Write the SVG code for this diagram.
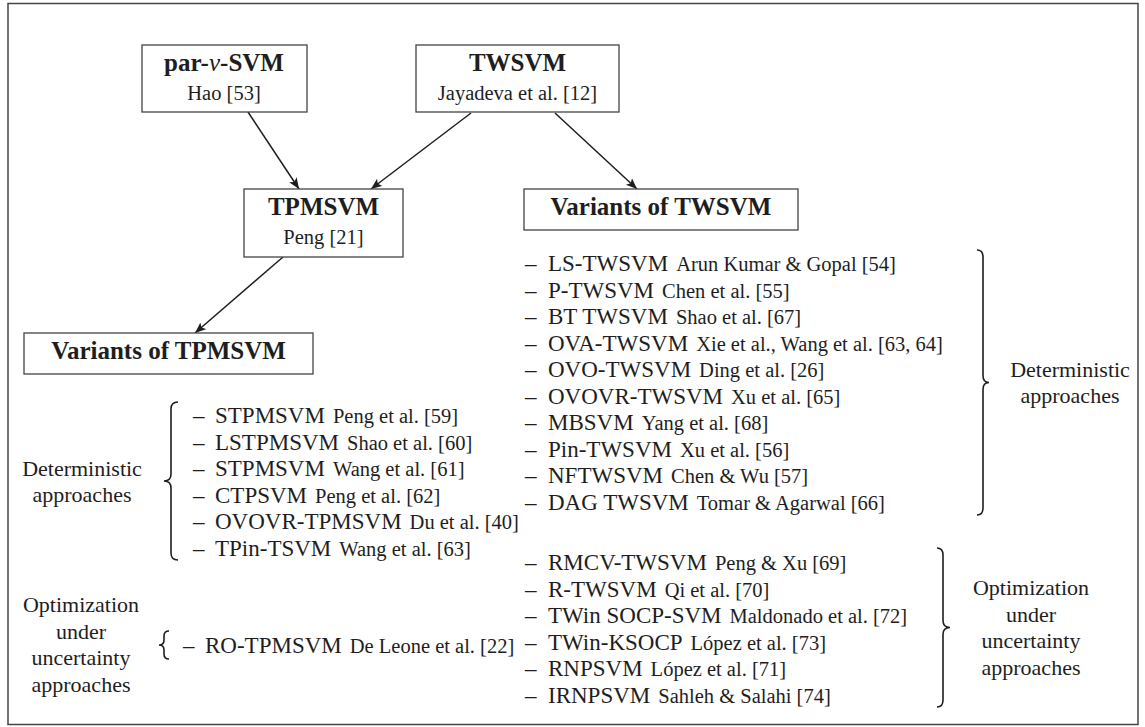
<svg xmlns="http://www.w3.org/2000/svg" width="1145" height="727" viewBox="0 0 1145 727" font-family="'Liberation Serif', 'DejaVu Serif', serif">
<style>
text{font-family:'Liberation Serif', 'DejaVu Serif', serif;fill:#1e1e1e}
.t{font-size:25px;font-weight:bold;text-anchor:middle}
.sub{font-size:20.5px;text-anchor:middle}
.li{font-size:23px}
.s{font-size:20.5px}
.lab{font-size:22px;text-anchor:middle}
.box{fill:#fff;stroke:#444;stroke-width:1.3}
.br{fill:none;stroke:#1e1e1e;stroke-width:1.6}
.cn{stroke:#1e1e1e;stroke-width:1.5;fill:none;marker-end:url(#ah)}
</style>
<defs>
<marker id="ah" markerUnits="userSpaceOnUse" markerWidth="12" markerHeight="10" refX="11" refY="4.5" orient="auto">
<path d="M0,0 L11,4.5 L0,9 L2.5,4.5 z" fill="#1e1e1e"/>
</marker>
</defs>
<rect x="8" y="3.5" width="1130" height="721" fill="#fff" stroke="#444" stroke-width="1.5"/>

<g id="connectors">
<line class="cn" x1="248" y1="112" x2="299" y2="189"/>
<line class="cn" x1="471" y1="113" x2="371" y2="189"/>
<line class="cn" x1="555" y1="113" x2="637" y2="189"/>
<line class="cn" x1="283" y1="257" x2="195" y2="333"/>
</g>

<g id="par-nu-svm">
<rect class="box" x="142" y="45" width="165" height="67"/>
<text class="t" x="224" y="71">par-<tspan font-style="italic" font-weight="normal">ν</tspan>-SVM</text>
<text class="sub" x="224" y="99.5">Hao [53]</text>
</g>

<g id="twsvm">
<rect class="box" x="416" y="45" width="203" height="67"/>
<text class="t" x="517.5" y="71">TWSVM</text>
<text class="sub" x="517.5" y="99.5">Jayadeva et al. [12]</text>
</g>

<g id="tpmsvm">
<rect class="box" x="244" y="189" width="159" height="68"/>
<text class="t" x="323.5" y="215">TPMSVM</text>
<text class="sub" x="323.5" y="243.5">Peng [21]</text>
</g>

<g id="variants-twsvm">
<rect class="box" x="524" y="189" width="274" height="41"/>
<text class="t" x="661" y="215">Variants of TWSVM</text>
</g>

<g id="variants-tpmsvm">
<rect class="box" x="24" y="333" width="289" height="41"/>
<text class="t" x="168.5" y="359">Variants of TPMSVM</text>
</g>

<g id="twsvm-deterministic-list">
<text class="li" y="271"><tspan x="525">–</tspan><tspan x="548">LS-TWSVM</tspan><tspan class="s" dx="8">Arun Kumar &amp; Gopal [54]</tspan></text>
<text class="li" y="297.5"><tspan x="525">–</tspan><tspan x="548">P-TWSVM</tspan><tspan class="s" dx="8">Chen et al. [55]</tspan></text>
<text class="li" y="324"><tspan x="525">–</tspan><tspan x="548">BT TWSVM</tspan><tspan class="s" dx="8">Shao et al. [67]</tspan></text>
<text class="li" y="350.5"><tspan x="525">–</tspan><tspan x="548">OVA-TWSVM</tspan><tspan class="s" dx="8">Xie et al., Wang et al. [63, 64]</tspan></text>
<text class="li" y="377"><tspan x="525">–</tspan><tspan x="548">OVO-TWSVM</tspan><tspan class="s" dx="8">Ding et al. [26]</tspan></text>
<text class="li" y="403.5"><tspan x="525">–</tspan><tspan x="548">OVOVR-TWSVM</tspan><tspan class="s" dx="8">Xu et al. [65]</tspan></text>
<text class="li" y="430"><tspan x="525">–</tspan><tspan x="548">MBSVM</tspan><tspan class="s" dx="8">Yang et al. [68]</tspan></text>
<text class="li" y="456.5"><tspan x="525">–</tspan><tspan x="548">Pin-TWSVM</tspan><tspan class="s" dx="8">Xu et al. [56]</tspan></text>
<text class="li" y="483"><tspan x="525">–</tspan><tspan x="548">NFTWSVM</tspan><tspan class="s" dx="8">Chen &amp; Wu [57]</tspan></text>
<text class="li" y="509.5"><tspan x="525">–</tspan><tspan x="548">DAG TWSVM</tspan><tspan class="s" dx="8">Tomar &amp; Agarwal [66]</tspan></text>
</g>

<g id="twsvm-deterministic-brace">
<path class="br" d="M977,250 Q983,250 983,257 L983,375.5 Q983,382.5 989,382.5 Q983,382.5 983,389.5 L983,508 Q983,515 977,515"/>
<text class="lab" x="1070" y="377">Deterministic</text>
<text class="lab" x="1070" y="403">approaches</text>
</g>

<g id="twsvm-uncertainty-list">
<text class="li" y="570"><tspan x="525">–</tspan><tspan x="548">RMCV-TWSVM</tspan><tspan class="s" dx="8">Peng &amp; Xu [69]</tspan></text>
<text class="li" y="596.5"><tspan x="525">–</tspan><tspan x="548">R-TWSVM</tspan><tspan class="s" dx="8">Qi et al. [70]</tspan></text>
<text class="li" y="623"><tspan x="525">–</tspan><tspan x="548">TWin SOCP-SVM</tspan><tspan class="s" dx="8">Maldonado et al. [72]</tspan></text>
<text class="li" y="649.5"><tspan x="525">–</tspan><tspan x="548">TWin-KSOCP</tspan><tspan class="s" dx="8">López et al. [73]</tspan></text>
<text class="li" y="676"><tspan x="525">–</tspan><tspan x="548">RNPSVM</tspan><tspan class="s" dx="8">López et al. [71]</tspan></text>
<text class="li" y="702.5"><tspan x="525">–</tspan><tspan x="548">IRNPSVM</tspan><tspan class="s" dx="8">Sahleh &amp; Salahi [74]</tspan></text>
</g>

<g id="twsvm-uncertainty-brace">
<path class="br" d="M937,548 Q943,548 943,555 L943,620.5 Q943,627.5 950,627.5 Q943,627.5 943,634.5 L943,700 Q943,707 937,707"/>
<text class="lab" x="1031" y="595">Optimization</text>
<text class="lab" x="1031" y="621.5">under</text>
<text class="lab" x="1031" y="648">uncertainty</text>
<text class="lab" x="1031" y="674.5">approaches</text>
</g>

<g id="tpmsvm-deterministic-brace">
<text class="lab" x="82" y="475.5">Deterministic</text>
<text class="lab" x="82" y="501.5">approaches</text>
<path class="br" d="M178,402 Q171,402 171,409 L171,474 Q171,481 164,481 Q171,481 171,488 L171,553 Q171,560 178,560"/>
</g>

<g id="tpmsvm-deterministic-list">
<text class="li" y="423"><tspan x="193">–</tspan><tspan x="215">STPMSVM</tspan><tspan class="s" dx="8">Peng et al. [59]</tspan></text>
<text class="li" y="449.5"><tspan x="193">–</tspan><tspan x="215">LSTPMSVM</tspan><tspan class="s" dx="8">Shao et al. [60]</tspan></text>
<text class="li" y="476"><tspan x="193">–</tspan><tspan x="215">STPMSVM</tspan><tspan class="s" dx="8">Wang et al. [61]</tspan></text>
<text class="li" y="502.5"><tspan x="193">–</tspan><tspan x="215">CTPSVM</tspan><tspan class="s" dx="8">Peng et al. [62]</tspan></text>
<text class="li" y="529"><tspan x="193">–</tspan><tspan x="215">OVOVR-TPMSVM</tspan><tspan class="s" dx="8">Du et al. [40]</tspan></text>
<text class="li" y="555.5"><tspan x="193">–</tspan><tspan x="215">TPin-TSVM</tspan><tspan class="s" dx="8">Wang et al. [63]</tspan></text>
</g>

<g id="tpmsvm-uncertainty">
<text class="lab" x="81" y="612">Optimization</text>
<text class="lab" x="81" y="638.5">under</text>
<text class="lab" x="81" y="665">uncertainty</text>
<text class="lab" x="81" y="691.5">approaches</text>
<path class="br" d="M169,631 Q164,631 164,636 L164,640 Q164,645 159,645 Q164,645 164,650 L164,654 Q164,659 169,659"/>
<text class="li" y="653"><tspan x="183">–</tspan><tspan x="205">RO-TPMSVM</tspan><tspan class="s" dx="8">De Leone et al. [22]</tspan></text>
</g>
</svg>
